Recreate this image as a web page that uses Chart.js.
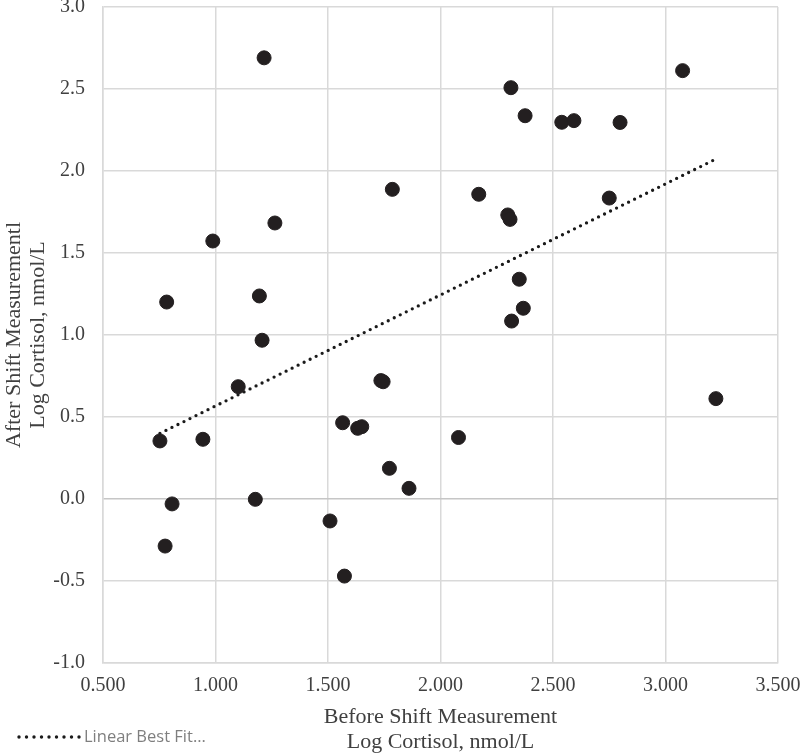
<!DOCTYPE html>
<html>
<head>
<meta charset="utf-8">
<title>Cortisol before / after shift</title>
<script src="https://cdn.jsdelivr.net/npm/chart.js@4.4.0/dist/chart.umd.min.js"></script>
<style>
  html, body { margin: 0; padding: 0; background: #fff; }
  #wrap { width: 800px; height: 755px; }
</style>
</head>
<body>
<div id="wrap"><canvas id="chart" width="800" height="755"></canvas></div>
<script>
// log cortisol (nmol/L), one entry per subject
const beforeShift = [
  0.753, 0.783, 0.776, 0.807, 0.944, 0.988, 1.101, 1.177, 1.195, 1.207,
  1.216, 1.264, 1.509, 1.565, 1.573, 1.632, 1.650, 1.735, 1.745, 1.773,
  1.786, 1.860, 2.080, 2.170, 2.299, 2.309, 2.313, 2.316, 2.350, 2.368,
  2.376, 2.539, 2.593, 2.750, 2.798, 3.076, 3.224
];
const afterShift = [
  0.354, 1.201, -0.287, -0.030, 0.364, 1.573, 0.685, -0.002, 1.238, 0.968,
  2.690, 1.683, -0.134, 0.465, -0.470, 0.431, 0.441, 0.722, 0.715, 0.187,
  1.888, 0.065, 0.375, 1.858, 1.732, 1.705, 2.508, 1.085, 1.340, 1.163,
  2.337, 2.297, 2.307, 1.835, 2.296, 2.612, 0.612
];

// best fit line end points
const fitX = [0.753, 3.224];
const fitY = [0.400, 2.073];

const xTicks = [0.5, 1.0, 1.5, 2.0, 2.5, 3.0, 3.5];
const yTicks = [-1.0, -0.5, 0.0, 0.5, 1.0, 1.5, 2.0, 2.5, 3.0];

const xTitle = ["Before Shift Measurement", "Log Cortisol, nmol/L"];
const yTitle = ["After Shift Measurementl", "Log Cortisol, nmol/L"];
const fitLabel = "Linear Best Fit...";

const textColor = "#404040";
const gridColor = "#d9d9d9";
const serif = "'Liberation Serif', 'Times New Roman', serif";

// legend sits at the bottom left, beside the x title
const bottomLegend = {
  id: "bottomLegend",
  afterDraw(chart) {
    const ds = chart.data.datasets.find(d => d.isFit);
    const ctx = chart.ctx;
    const y = 737;
    ctx.save();
    ctx.fillStyle = ds.borderColor;
    for (let x = 19; x <= 79; x += 7.5) {
      ctx.beginPath();
      ctx.arc(x, y, 1.7, 0, Math.PI * 2);
      ctx.fill();
    }
    ctx.font = "16.5px 'Open Sans', sans-serif";
    ctx.fillStyle = "#7f7f7f";
    ctx.textBaseline = "middle";
    ctx.fillText(ds.label, 84, y);
    ctx.restore();
  }
};

const ctx = document.getElementById("chart").getContext("2d");

new Chart(ctx, {
  type: "scatter",
  data: {
    datasets: [
      {
        label: "Cortisol",
        data: beforeShift.map((x, i) => ({ x: x, y: afterShift[i] })),
        backgroundColor: "#231f20",
        borderColor: "#231f20",
        pointRadius: 7,
        pointHoverRadius: 7,
        order: 0,
      },
      {
        label: fitLabel,
        isFit: true,
        data: fitX.map((x, i) => ({ x: x, y: fitY[i] })),
        showLine: true,
        borderColor: "#1a1a1a",
        borderWidth: 3.3,
        borderDash: [0, 6.7],
        borderCapStyle: "round",
        pointRadius: 0,
        fill: false,
        order: 1,
      },
    ],
  },
  options: {
    responsive: false,
    animation: false,
    events: [],
    layout: {
      autoPadding: false,
      padding: { top: 7, right: 22, bottom: 0, left: 0 },
    },
    plugins: {
      legend: { display: false },
      tooltip: { enabled: false },
    },
    scales: {
      x: {
        type: "linear",
        min: xTicks[0],
        max: xTicks[xTicks.length - 1],
        afterBuildTicks: s => { s.ticks = xTicks.map(v => ({ value: v })); },
        ticks: {
          callback: v => Number(v).toFixed(3),
          color: textColor,
          font: { family: serif, size: 20 },
          padding: 11,
          maxRotation: 0,
        },
        grid: { color: gridColor, lineWidth: 1.5, drawTicks: false },
        border: { color: gridColor, width: 1.5 },
        title: {
          display: true,
          text: xTitle,
          color: textColor,
          font: { family: serif, size: 22, lineHeight: 1.1 },
          padding: { top: 4, bottom: 1 },
        },
        afterFit: s => {
          s.height = 92;
          s.paddingLeft = 0;
          s.paddingRight = 0;
        },
      },
      y: {
        type: "linear",
        min: yTicks[0],
        max: yTicks[yTicks.length - 1],
        afterBuildTicks: s => { s.ticks = yTicks.map(v => ({ value: v })); },
        ticks: {
          callback: v => Number(v).toFixed(1),
          color: textColor,
          font: { family: serif, size: 20 },
          padding: 18,
        },
        grid: {
          color: c => (c.tick && c.tick.value === 0 ? "#c6c6c6" : gridColor),
          lineWidth: 1.5,
          drawTicks: false,
        },
        border: { color: gridColor, width: 1.5 },
        title: {
          display: true,
          text: yTitle,
          color: textColor,
          font: { family: serif, size: 22, lineHeight: 1.1 },
          padding: { top: 2, bottom: 0 },
        },
        afterFit: s => {
          s.width = 103;
          s.paddingTop = 0;
          s.paddingBottom = 0;
        },
      },
    },
  },
  plugins: [bottomLegend],
});
</script>
</body>
</html>
